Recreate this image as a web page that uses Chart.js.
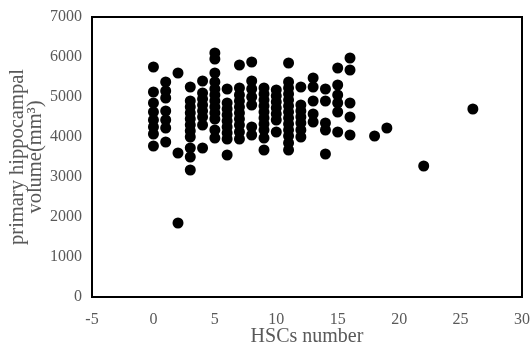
<!DOCTYPE html>
<html>
<head>
<meta charset="utf-8">
<script src="https://cdn.jsdelivr.net/npm/chart.js@4/dist/chart.umd.min.js"></script>
<style>
  html, body { margin: 0; padding: 0; background: #fff; }
  #wrap { width: 531px; height: 347px; }
</style>
</head>
<body>
<div id="wrap"><canvas id="hsc-volume"></canvas></div>
<script>
// one entry per subject: HSC count and hippocampal volume (mm3)
const hscCounts = [
    0, 0, 0, 0, 0, 0, 0, 0,
    1, 1, 1, 1, 1, 1, 1,
    2, 2, 2,
    3, 3, 3, 3, 3, 3, 3, 3, 3, 3, 3,
    4, 4, 4, 4, 4, 4, 4, 4,
    5, 5, 5, 5, 5, 5, 5, 5, 5, 5, 5, 5,
    6, 6, 6, 6, 6, 6, 6, 6, 6,
    7, 7, 7, 7, 7, 7, 7, 7, 7, 7,
    8, 8, 8, 8, 8, 8, 8,
    9, 9, 9, 9, 9, 9, 9, 9, 9, 9,
    10, 10, 10, 10, 10, 10, 10,
    11, 11, 11, 11, 11, 11, 11, 11, 11, 11, 11, 11, 11,
    12, 12, 12, 12, 12, 12, 12,
    13, 13, 13, 13, 13,
    14, 14, 14, 14, 14,
    15, 15, 15, 15, 15, 15,
    16, 16, 16, 16, 16,
    18, 19, 22, 26
];
const volumes = [
    5750, 5125, 4850, 4625, 4425, 4250, 4075, 3775,
    5375, 5150, 4975, 4650, 4425, 4225, 3875,
    5600, 3600, 1850,
    5250, 4900, 4750, 4600, 4450, 4300, 4150, 4000, 3725, 3500, 3175,
    5400, 5100, 4950, 4800, 4650, 4500, 4300, 3725,
    6100, 5950, 5600, 5375, 5200, 5050, 4900, 4750, 4600, 4450, 4175, 3975,
    5200, 4850, 4700, 4550, 4400, 4250, 4100, 3950, 3550,
    5800, 5225, 5050, 4900, 4750, 4600, 4450, 4300, 4125, 3950,
    5875, 5400, 5200, 5000, 4800, 4250, 4050,
    5225, 5075, 4925, 4775, 4625, 4475, 4325, 4175, 3975, 3675,
    5175, 5025, 4875, 4725, 4575, 4425, 4125,
    5850, 5375, 5225, 5075, 4925, 4775, 4625, 4475, 4325, 4175, 4025, 3850, 3675,
    5250, 4800, 4650, 4500, 4350, 4175, 4000,
    5475, 5250, 4900, 4575, 4375,
    5200, 4900, 4350, 4175, 3575,
    5725, 5300, 5050, 4850, 4625, 4125,
    5975, 5675, 4850, 4500, 4050,
    4025, 4225, 3275, 4700
];
const xTickRange = [-5, 30];
const yTickRange = [0, 7000];

const gray = '#595959';
const serif = 'Liberation Serif, Times New Roman, serif';

// box round the plot area
const frame = {
    id: 'frame',
    afterDatasetsDraw(chart) {
        const { ctx, chartArea: a } = chart;
        ctx.save();
        ctx.strokeStyle = '#000';
        ctx.lineWidth = 2;
        ctx.strokeRect(a.left, a.top, a.right - a.left, a.bottom - a.top);
        ctx.restore();
    }
};

const data = {
    datasets: [{
        data: hscCounts.map((x, i) => ({ x: x, y: volumes[i] })),
        backgroundColor: '#000',
        borderWidth: 0,
        pointRadius: 5.5,
        pointHoverRadius: 5.5
    }]
};

const options = {
    responsive: true,
    maintainAspectRatio: false,
    animation: false,
    layout: { padding: { top: 17, right: 9, left: 0, bottom: 0 } },
    plugins: { legend: { display: false }, tooltip: { enabled: false } },
    scales: {
        x: {
            type: 'linear',
            min: xTickRange[0],
            max: xTickRange[1],
            grid: { display: false, drawTicks: false },
            border: { display: false },
            ticks: {
                stepSize: 5, padding: 13, color: gray,
                font: { family: serif, size: 16 },
                callback: (v) => String(v)
            },
            title: {
                display: true,
                text: 'HSCs number',
                color: gray,
                padding: { top: 0, bottom: 0 },
                font: { family: serif, size: 20, lineHeight: 1 }
            },
            afterFit(scale) {
                scale.height = 50;
                scale.paddingLeft = 0;
                scale.paddingRight = 0;
            }
        },
        y: {
            min: yTickRange[0],
            max: yTickRange[1],
            grid: { display: false, drawTicks: false },
            border: { display: false },
            ticks: {
                stepSize: 1000, padding: 10, color: gray,
                font: { family: serif, size: 16 },
                callback: (v) => String(v)
            },
            title: {
                display: true,
                text: ['primary hippocampal', 'volume(mm\u00B3)'],
                color: gray,
                padding: { top: 9, bottom: 0 },
                font: { family: serif, size: 20.5, lineHeight: 0.88 }
            },
            afterFit(scale) {
                scale.width = 92;
                scale.paddingTop = 0;
                scale.paddingBottom = 0;
            }
        }
    }
};

new Chart(document.querySelector('#hsc-volume'), {
    type: 'scatter',
    data,
    options,
    plugins: [frame]
});
</script>
</body>
</html>
